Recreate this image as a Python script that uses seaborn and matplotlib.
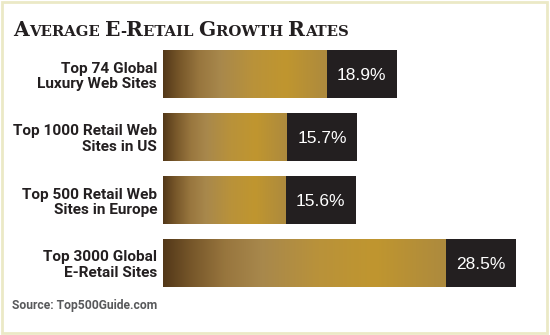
import numpy as np
import pandas as pd
import matplotlib
matplotlib.use("Agg")
import matplotlib.pyplot as plt
from matplotlib.colors import LinearSegmentedColormap
from matplotlib.patches import Rectangle
from matplotlib import font_manager
import seaborn as sns

# ---- data -------------------------------------------------------------
categories = [
    "Top 74 Global\nLuxury Web Sites",
    "Top 1000 Retail Web\nSites in US",
    "Top 500 Retail Web\nSites in Europe",
    "Top 3000 Global\nE-Retail Sites",
]
growth = [18.9, 15.7, 15.6, 28.5]
value_labels = ["18.9%", "15.7%", "15.6%", "28.5%"]
title = "Average E-Retail Growth Rates"
source = "Source: Top500Guide.com"

# ---- styling ----------------------------------------------------------
W, H, DPI = 550, 335, 100
INK = "#231f20"
DARK = "#231f20"
FRAME = "#ebe9c6"
GOLD_STOPS = [
    (0.00, "#533819"),
    (0.10, "#77572a"),
    (0.22, "#98763e"),
    (0.35, "#a8884c"),
    (0.55, "#b9923a"),
    (0.75, "#c0962f"),
    (1.00, "#ad8a3e"),
]

sns.set_theme(style="white")
plt.rcParams["font.family"] = ["Liberation Sans", "DejaVu Sans"]

fig = plt.figure(figsize=(W / DPI, H / DPI), dpi=DPI)
fig.patch.set_facecolor("white")
renderer = fig.canvas.get_renderer()


def px(x, y):
    """Pixel position measured from the top-left corner -> figure fraction."""
    return x / W, 1 - y / H


# pick the most compact bold sans face installed for the row labels
installed = {f.name for f in font_manager.fontManager.ttflist}
candidates = [n for n in ["Liberation Sans Narrow", "Roboto", "Lato",
                          "Liberation Sans", "Noto Sans", "Open Sans", "Inter"]
              if n in installed]


def text_width(family, s, size=13):
    t = fig.text(0, 0, s, fontsize=size, fontweight="bold", family=[family])
    w = t.get_window_extent(renderer).width
    t.remove()
    return w


NARROW = min(candidates, key=lambda n: text_width(n, "Top 1000 Retail Web"))

# plot area: bars start at x=163, rows 63 px apart
ax = fig.add_axes([163 / W, (H - 294.5) / H, 380 / W, 252 / H])
df = pd.DataFrame({"category": categories, "growth": growth})
sns.barplot(data=df, x="growth", y="category", orient="h", color=DARK,
            saturation=1, width=0.76, ax=ax)

XMAX = 30.7
BOX_W = 5.7  # width of the dark value box, in data units

gold = LinearSegmentedColormap.from_list("gold", GOLD_STOPS)
ramp = np.linspace(0, 1, 512).reshape(1, -1)

for patch, v, lab in zip(ax.patches, growth, value_labels):
    patch.set_edgecolor("none")
    x0, y0, h = patch.get_x(), patch.get_y(), patch.get_height()
    ax.imshow(ramp, cmap=gold, aspect="auto", interpolation="bilinear",
              extent=[x0, x0 + v - BOX_W, y0 + h, y0],
              zorder=patch.get_zorder() + 0.5)
    ax.text(x0 + v - BOX_W / 2, y0 + h / 2 + 0.095, lab, color="white",
            fontsize=12.5, ha="center", va="baseline",
            family=["Liberation Sans", "DejaVu Sans"],
            zorder=patch.get_zorder() + 1)

ax.set_xlim(0, XMAX)
ax.set_ylim(3.5, -0.5)
ax.set_xticks([])
ax.set_yticks(range(len(categories)))
label_size = 13 * 144 / text_width(NARROW, "Top 1000 Retail Web")
ax.set_yticklabels(categories, fontsize=label_size, fontweight="bold",
                   color=INK, family=[NARROW, "DejaVu Sans"], linespacing=1.1)
ax.tick_params(axis="y", length=0, pad=4.3)
ax.set_xlabel("")
ax.set_ylabel("")
for s in ax.spines.values():
    s.set_visible(False)
ax.set_facecolor("none")


# ---- small-caps title ---------------------------------------------------
def small_caps_runs(text):
    runs = []
    for ch in text:
        big = ch.isupper()
        piece = ch.upper()
        if runs and runs[-1][1] == big:
            runs[-1][0] += piece
        else:
            runs.append([piece, big])
    return runs


def draw_small_caps(text, x, y, big, small, target_w=None):
    runs = small_caps_runs(text)

    def place(scale):
        arts, cx = [], x
        for piece, is_big in runs:
            size = (big if is_big else small) * scale
            fx, fy = px(cx, y)
            t = fig.text(fx, fy, piece, fontsize=size, fontweight="bold",
                         color=INK, ha="left", va="baseline",
                         family=["DejaVu Serif"])
            arts.append(t)
            cx += t.get_window_extent(renderer).width
        return arts, cx - x

    arts, width = place(1.0)
    if target_w:
        for a in arts:
            a.remove()
        arts, width = place(target_w / width)
    return arts


draw_small_caps(title, 13, 36, 13.0, 9.6, target_w=335)

# ---- source note --------------------------------------------------------
src_size = 10 * 146 / text_width(NARROW, source, 10)
fig.text(*px(12, 309.5), source, fontsize=src_size, fontweight="bold",
         color="#58595b", ha="left", va="baseline",
         family=[NARROW, "DejaVu Sans"])

# ---- pale frame round the graphic --------------------------------------
fig.patches.append(Rectangle(px(1.5, 332.5), 545 / W, 331 / H,
                             transform=fig.transFigure, fill=False,
                             edgecolor=FRAME, linewidth=2.0))

fig.savefig("out.png", dpi=DPI, facecolor="white")
